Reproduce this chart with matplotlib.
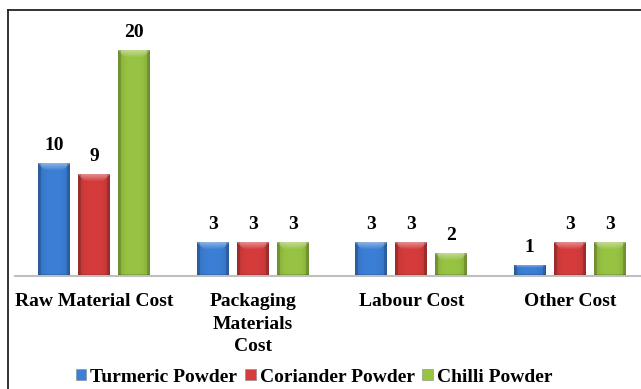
import matplotlib

matplotlib.use("Agg")
import matplotlib.pyplot as plt  # noqa: E402
import numpy as np  # noqa: E402
from matplotlib.colors import to_rgb  # noqa: E402
from matplotlib.lines import Line2D  # noqa: E402
from matplotlib.patches import Patch  # noqa: E402

categories = ["Raw Material Cost", "Packaging\nMaterials\nCost", "Labour Cost", "Other Cost"]
series = ["Turmeric Powder", "Coriander Powder", "Chilli Powder"]
turmeric = [10, 3, 3, 1]
coriander = [9, 3, 3, 3]
chilli = [20, 3, 2, 3]
colors = ["#3b7fd6", "#d63c3c", "#98c443"]

plt.rcParams["font.family"] = ["Liberation Serif", "DejaVu Serif"]
plt.rcParams["font.weight"] = "bold"


def shade(color, h_px, w_px=32):
    """Bevelled bar texture: lighter top band, darker sides and bottom."""
    base = np.array(to_rgb(color))
    x = np.linspace(-1, 1, w_px)
    horiz = 1.0 - 0.15 * np.abs(x) ** 3
    img = np.ones((max(h_px, 2), w_px, 3)) * base
    img *= horiz[None, :, None]
    bevel = min(7, max(h_px // 3, 2))
    for i in range(bevel):
        lift = 0.4 * (1 - i / bevel)
        lo, hi = i, w_px - i
        img[i, lo:hi] = np.clip(img[i, lo:hi] + (1 - img[i, lo:hi]) * lift, 0, 1)
    img[:, :3] *= 0.85
    img[:, -3:] *= 0.85
    img[-2:] *= 0.85
    return np.clip(img, 0, 1)


fig = plt.figure(figsize=(6.41, 3.89), dpi=100)
ax = fig.add_axes([15 / 641, 1 - 276 / 389, 634 / 641, 254 / 389])

x = np.arange(len(categories))
width = 0.2
step = 0.252
ylim = 22.5

for i, (vals, col, name) in enumerate(zip([turmeric, coriander, chilli], colors, series)):
    pos = x + (i - 1) * step
    bars = ax.bar(pos, vals, width, color=col, edgecolor="none", label=name, zorder=2)
    for b, v in zip(bars, vals):
        x0, w, h = b.get_x(), b.get_width(), b.get_height()
        h_px = int(round(h / ylim * 254))
        im = ax.imshow(shade(col, h_px), extent=[x0, x0 + w, 0, h], aspect="auto",
                       interpolation="bilinear", zorder=3)
        im.set_clip_path(b)
        ax.text(x0 + w / 2, h + 1.15, f"{v}", ha="center", va="baseline",
                fontsize=14, fontweight="bold")

ax.set_xlim(-0.5, 3.5)
ax.set_ylim(0, ylim)
ax.set_xticks(x)
ax.set_xticklabels(categories, fontsize=14, fontweight="bold", linespacing=1.45)
ax.tick_params(axis="x", length=0, pad=12)
ax.set_yticks([])
for side in ["top", "right", "left"]:
    ax.spines[side].set_visible(False)
ax.spines["bottom"].set_color("#bfbfbf")
ax.spines["bottom"].set_linewidth(1.5)
ax.spines["bottom"].set_zorder(5)

handles = [Patch(facecolor=c, edgecolor="#888888", linewidth=0.4) for c in colors]
fig.legend(handles, series, loc="center", bbox_to_anchor=(314 / 641, 1 - 377 / 389),
           ncol=3, frameon=False, handlelength=0.55, handleheight=0.55,
           handletextpad=0.2, columnspacing=0.4, prop={"weight": "bold", "size": 14})

# frame edges along the left and top of the figure
fig.add_artist(Line2D([8 / 641, 8 / 641], [0, 1 - 10 / 389], transform=fig.transFigure,
                      color="#222222", lw=1.3))
fig.add_artist(Line2D([8 / 641, 1], [1 - 10 / 389, 1 - 10 / 389], transform=fig.transFigure,
                      color="#222222", lw=1.3))

fig.savefig("out.png", dpi=100)
plt.close(fig)
